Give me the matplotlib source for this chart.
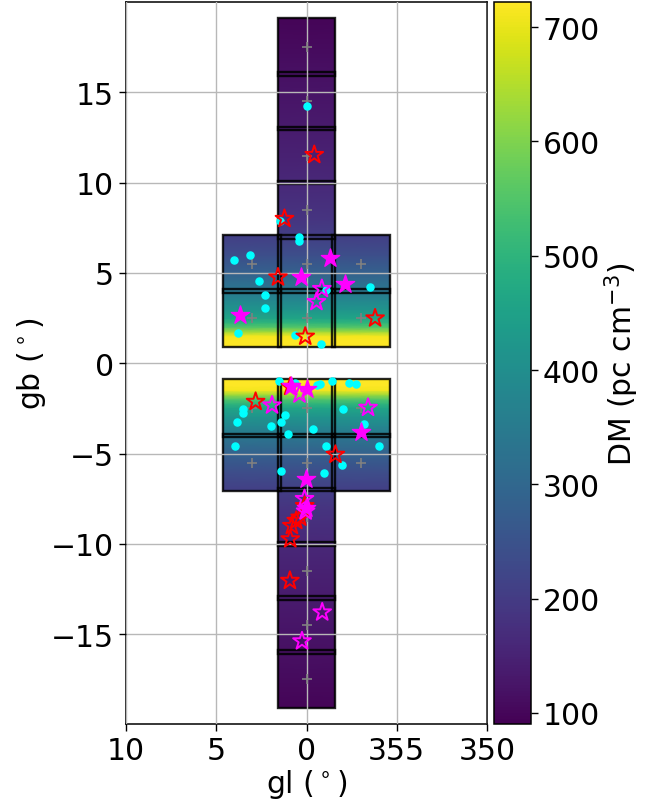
"""
DM map of the bulge fields with the pulsars on top
"""
import numpy as np
import matplotlib
matplotlib.use("Agg")
import matplotlib.pyplot as plt
from matplotlib.patches import Rectangle

plt.rc("font", size=21.5)
plt.rc("axes", linewidth=1.1)
plt.rc("xtick.major", size=5, width=1.0)
plt.rc("ytick.major", size=5, width=1.0)

# DM read along gb (same for every field)
gb_nodes = [-19.1, -16, -13, -10, -8, -7.1, -6, -5, -4, -3.5, -3, -2.5, -2.25, -2, -1.75, -1.5, -1.25, -0.9,
            0.9, 1.25, 1.5, 1.75, 2, 2.25, 2.5, 3, 3.5, 4, 5, 6, 7.1, 8, 10, 13, 16, 19.1]
dm_nodes = [95, 115, 135, 160, 185, 205, 240, 285, 340, 380, 415, 460, 500, 550, 630, 710, 722, 722,
            722, 722, 710, 630, 550, 500, 460, 415, 380, 340, 285, 240, 205, 185, 160, 135, 115, 95]

# field centres
tile_gl = [0, 0, 0, 0, 0, 0, 0, 0, 0, 0, 0, 0, 3, 3, 3, 3, -3, -3, -3, -3]
tile_gb = [17.5, 14.5, 11.5, 8.5, 5.5, 2.5, -2.5, -5.5, -8.5, -11.5, -14.5, -17.5,
           5.5, 2.5, -2.5, -5.5, 5.5, 2.5, -2.5, -5.5]
tile_size = 3.2

# cyan dots
dot_gl = [4.01, 3.13, 0.44, 0.39, 2.65, 2.32, 2.32, 3.81, 0.62, -0.80, -1.07, -3.50, -0.04, 1.45,
          1.52, 0.62, -0.57, -0.76, -1.44, -2.36, -2.73, 3.50, 3.50, 3.83, 1.19, 1.44, 1.99, 1.01,
          -0.37, -2.03, -3.17, 3.94, -1.07, -4.0, -1.99, -0.96, 1.44]
dot_gb = [5.73, 6.01, 6.99, 6.75, 4.54, 3.76, 3.03, 1.68, 1.57, 1.08, 4.04, 4.24, 14.23, 7.85,
          -0.97, -1.08, -1.23, -1.13, -0.97, -1.08, -1.13, -2.51, -2.74, -3.25, -2.88, -3.25, -3.49, -3.92,
          -3.66, -2.51, -3.38, -4.58, -4.58, -4.6, -5.63, -6.09, -5.96]

# red open stars
red_gl = [1.58, 0.07, -3.80, 1.22, -0.43, 2.82, 0.90, -1.60, 0.35, 0.57, 0.81, 0.90, 0.10, 0.92]
red_gb = [4.76, 1.48, 2.49, 8.0, 11.54, -2.13, -1.30, -5.06, -8.54, -8.72, -9.0, -9.74, -7.9, -12.04]

# magenta open stars
open_gl = [-0.85, -0.55, 1.91, -3.41, 0.39, 0.11, 0.05, -0.87, 0.25]
open_gb = [4.12, 3.40, -2.33, -2.46, -1.72, -7.51, -8.2, -13.79, -15.39]

# magenta filled stars
full_gl = [-1.31, 0.29, -2.14, 3.68, 0.88, -0.04, -3.04, 0.02, 0.02]
full_gb = [5.83, 4.76, 4.41, 2.66, -1.24, -1.41, -3.79, -6.40, -8.04]

vmin, vmax = 90, 722

fig = plt.figure(figsize=(6.57, 8.04), dpi=100)
ax = fig.add_axes([126/657, 78.6/804, 361/657, 722.4/804])
cax = fig.add_axes([494/657, 78.6/804, 37/657, 722.4/804])

yy = np.asarray(gb_nodes)
zz = np.asarray(dm_nodes, dtype=float)
for gl, gb in zip(tile_gl, tile_gb):
    x0, y0 = gl - tile_size/2, gb - tile_size/2
    hm = ax.pcolormesh([x0, x0 + tile_size], yy, np.column_stack([zz, zz]),
                       shading="gouraud", vmin=vmin, vmax=vmax, cmap="viridis", zorder=1)
    rect = Rectangle((x0, y0), tile_size, tile_size, transform=ax.transData)
    hm.set_clip_path(rect)
    ax.add_patch(Rectangle((x0, y0), tile_size, tile_size, fill=False, ec="k", lw=1.7, alpha=0.85, zorder=2))

ax.plot(tile_gl, tile_gb, "+", color="gray", ms=7, mew=1.2, zorder=3)
ax.grid(True, color="#b8b8b8", lw=1.0, zorder=4)
ax.set_axisbelow(False)
for line in ax.get_xgridlines() + ax.get_ygridlines():
    line.set_zorder(4)

ax.scatter(dot_gl, dot_gb, s=26, color="cyan", zorder=5)
ax.scatter(red_gl, red_gb, s=180, marker="*", facecolor="none", edgecolor="red", lw=1.4, zorder=6)
ax.scatter(open_gl, open_gb, s=180, marker="*", facecolor="none", edgecolor="magenta", lw=1.4, zorder=7)
ax.scatter(full_gl, full_gb, s=190, marker="*", color="magenta", zorder=8)

ax.set_xlim(10, -10)
ax.set_ylim(-20, 20)
ax.set_xticks([10, 5, 0, -5, -10])
ax.set_xticklabels(["10", "5", "0", "355", "350"])
ax.set_yticks([-15, -10, -5, 0, 5, 10, 15])
ax.set_xlabel(r"gl ($^\circ$)", labelpad=1)
ax.set_ylabel(r"gb ($^\circ$)", labelpad=2)

hc = fig.colorbar(hm, cax=cax)
hc.set_ticks([100, 200, 300, 400, 500, 600, 700])
hc.set_label(r"DM (pc cm$^{-3}$)", labelpad=1.5)

plt.savefig("out.png", dpi=100)
